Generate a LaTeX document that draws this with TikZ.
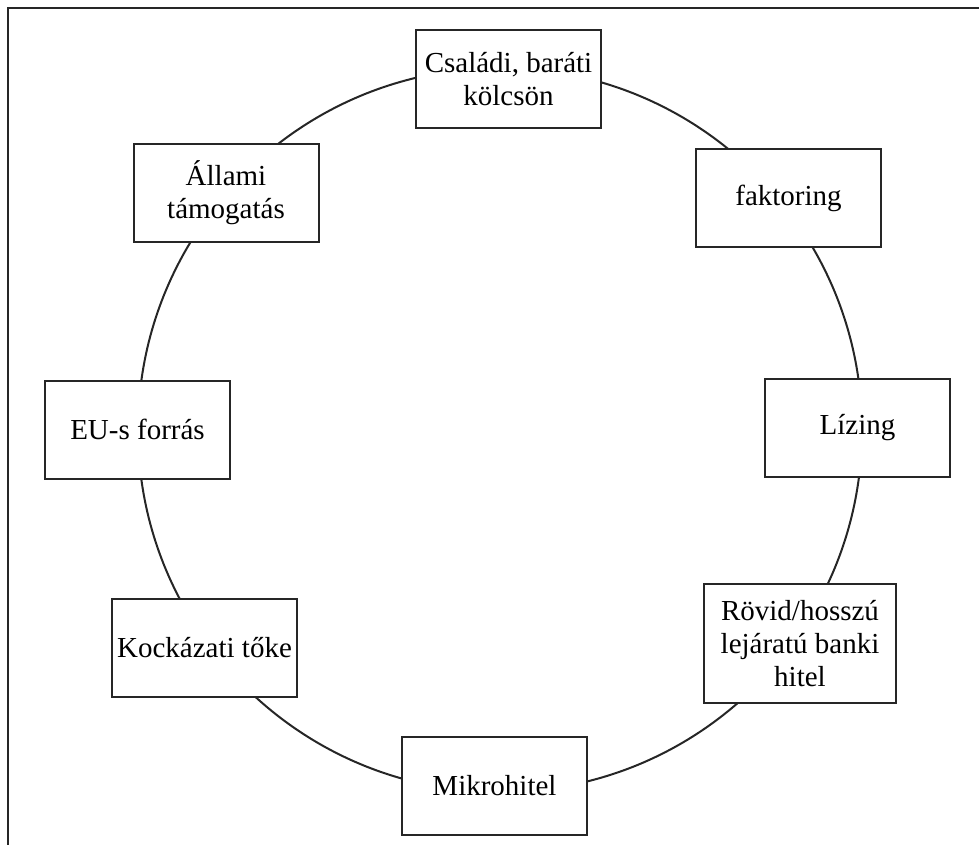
\documentclass[tikz,border=0pt]{standalone}
\usepackage{fontspec}
\setmainfont{Liberation Serif}
\begin{document}
\begin{tikzpicture}[x=1pt,y=-1pt,
  source/.style={draw=black!85, line width=2pt, fill=white, align=center,
    inner sep=0pt, minimum width=185pt, minimum height=98pt,
    font=\fontsize{29}{33}\selectfont},
  ring/.style={draw=black!85, line width=2pt},
  frame/.style={draw=black!85, line width=2.3pt}]
  \useasboundingbox (0,0) rectangle (979,845);
  % outer frame (only its top and left edges fall on the page)
  \draw[frame] (7.8,845) -- (7.8,7.8) -- (979,7.8);
  % ring linking the financing sources
  \coordinate (centre) at (500,430);
  \draw[ring] (centre) circle[radius=362];
  % financing sources placed around the ring
  \node[source] (csaladi)   at (508.5,79)    {Családi, baráti\\kölcsön};
  \node[source] (faktoring) at (788.5,198)   {faktoring};
  \node[source] (lizing)    at (857.5,427.5) {Lízing};
  \node[source, minimum width=192pt, minimum height=119pt]
                (banki)     at (800,643.5)   {Rövid/hosszú\\lejáratú banki\\hitel};
  \node[source] (mikro)     at (494.5,785.5) {Mikrohitel};
  \node[source] (kockazati) at (204.5,647.5) {Kockázati tőke};
  \node[source] (eu)        at (137.5,429.5) {EU-s forrás};
  \node[source] (allami)    at (226,193)     {Állami\\támogatás};
\end{tikzpicture}
\end{document}
